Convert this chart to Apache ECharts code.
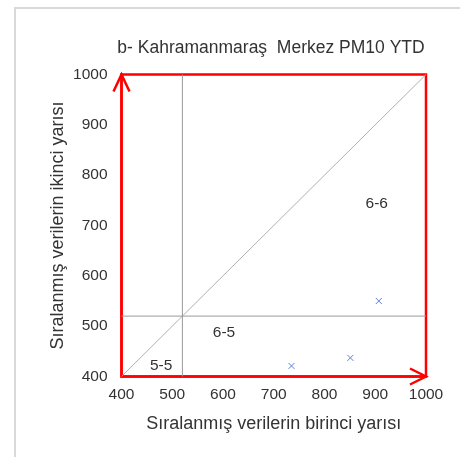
<!DOCTYPE html>
<html>
<head>
<meta charset="utf-8">
<script src="https://cdn.jsdelivr.net/npm/echarts@6/dist/echarts.min.js"></script>
<style>
  html, body { margin: 0; padding: 0; background: #fff; }
  #chart { width: 460px; height: 457px; }
</style>
</head>
<body>
<div id="chart"></div>
<script>
// Axis range and ticks
const axisMin = 400;
const axisMax = 1000;
const tickStep = 100;

// Split point between the two halves (vertical and horizontal reference lines)
const splitValue = 520;

// Sorted data: first half (x) vs second half (y)
const firstHalf = [735, 851, 907];
const secondHalf = [421, 437, 550];

// Region labels and where they sit in data space
const regionNames = ['6-6', '6-5', '5-5'];
const regionX = [903, 602, 478];
const regionY = [743, 487, 421];

const FONT = '"Liberation Sans", Arial, sans-serif';
const TEXT = '#333333';

const chart = echarts.init(document.getElementById('chart'));

const points = firstHalf.map((v, i) => [v, secondHalf[i]]);
const labels = regionNames.map((n, i) => [regionX[i], regionY[i], n]);

chart.setOption({
  animation: false,
  textStyle: { fontFamily: FONT },
  title: {
    text: 'b- Kahramanmaraş  Merkez PM10 YTD',
    left: 266,
    textAlign: 'center',
    top: 34,
    textStyle: { fontFamily: FONT, fontSize: 17.5, fontWeight: 'normal', color: TEXT }
  },
  graphic: [{
    type: 'polyline',
    shape: { points: [[15, 457], [15, 8], [460, 8]] },
    style: { stroke: '#d9d9d9', lineWidth: 2, fill: null },
    silent: true
  }],
  grid: {
    left: 121.5, right: 34, top: 74.5, bottom: 80.5,
    show: true, borderColor: '#ff0000', borderWidth: 2.5, backgroundColor: 'transparent'
  },
  xAxis: {
    type: 'value', min: axisMin, max: axisMax, interval: tickStep,
    name: 'Sıralanmış verilerin birinci yarısı',
    nameLocation: 'middle', nameGap: 39,
    nameTextStyle: { fontFamily: FONT, fontSize: 18, color: TEXT },
    axisLine: { show: true, lineStyle: { color: '#ff0000', width: 2.5 } },
    axisTick: { show: false },
    splitLine: { show: false },
    axisLabel: { fontFamily: FONT, fontSize: 15.5, color: TEXT, margin: 10, formatter: v => String(v) }
  },
  yAxis: {
    type: 'value', min: axisMin, max: axisMax, interval: tickStep,
    name: 'Sıralanmış verilerin ikinci yarısı',
    nameLocation: 'middle', nameGap: 54, nameMoveOverlap: false,
    nameTextStyle: { fontFamily: FONT, fontSize: 18, color: TEXT },
    axisLine: { show: true, lineStyle: { color: '#ff0000', width: 2.5 } },
    axisTick: { show: false },
    splitLine: { show: false },
    axisLabel: { fontFamily: FONT, fontSize: 15.5, color: TEXT, margin: 14, formatter: v => String(v) }
  },
  series: [
    {
      // diagonal y = x
      type: 'line',
      data: [[axisMin, axisMin], [axisMax, axisMax]],
      symbol: 'none',
      lineStyle: { color: '#b0b0b0', width: 1 },
      silent: true,
      z: 1
    },
    {
      // vertical split line
      type: 'line',
      data: [[splitValue, axisMin], [splitValue, axisMax]],
      symbol: 'none',
      lineStyle: { color: '#9a9a9a', width: 1 },
      silent: true,
      z: 1
    },
    {
      // horizontal split line
      type: 'line',
      data: [[axisMin, splitValue], [axisMax, splitValue]],
      symbol: 'none',
      lineStyle: { color: '#9a9a9a', width: 1 },
      silent: true,
      z: 1
    },
    {
      // cross markers
      type: 'custom',
      data: points,
      renderItem: function (params, api) {
        const p = api.coord([api.value(0), api.value(1)]);
        const s = 3;
        return {
          type: 'group',
          children: [
            { type: 'line', shape: { x1: p[0] - s, y1: p[1] - s, x2: p[0] + s, y2: p[1] + s },
              style: { stroke: '#5b7fd6', lineWidth: 1 } },
            { type: 'line', shape: { x1: p[0] - s, y1: p[1] + s, x2: p[0] + s, y2: p[1] - s },
              style: { stroke: '#5b7fd6', lineWidth: 1 } }
          ]
        };
      },
      z: 3
    },
    {
      // region labels
      type: 'custom',
      data: labels,
      renderItem: function (params, api) {
        const p = api.coord([api.value(0), api.value(1)]);
        return {
          type: 'text',
          x: p[0], y: p[1],
          style: {
            text: regionNames[params.dataIndex],
            fontFamily: FONT, fontSize: 15.5, fill: TEXT,
            align: 'center', verticalAlign: 'middle'
          }
        };
      },
      z: 3
    },
    {
      // open arrowheads at the ends of both axes
      type: 'custom',
      data: [[axisMin, axisMax, 0], [axisMax, axisMin, 1]],
      renderItem: function (params, api) {
        const p = api.coord([api.value(0), api.value(1)]);
        const up = api.value(2) === 0;
        const pts = up
          ? [[p[0] - 8, p[1] + 17], [p[0], p[1]], [p[0] + 8, p[1] + 17]]
          : [[p[0] - 16, p[1] - 8], [p[0], p[1]], [p[0] - 16, p[1] + 8]];
        return {
          type: 'polyline',
          shape: { points: pts },
          style: { stroke: '#ff0000', lineWidth: 2.5, fill: null }
        };
      },
      z: 5
    }
  ]
});
</script>
</body>
</html>
